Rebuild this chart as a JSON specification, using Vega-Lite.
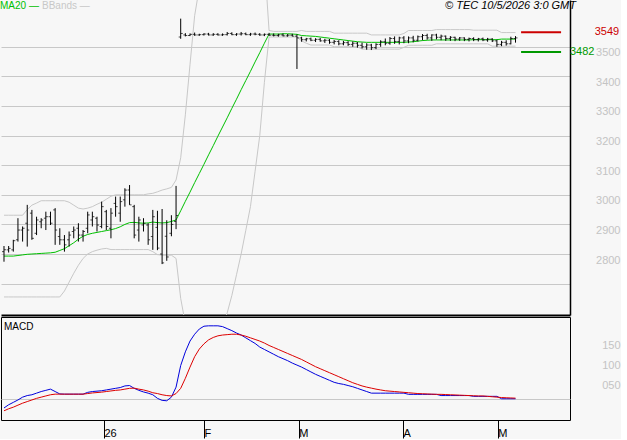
{
"$schema": "https://vega.github.io/schema/vega-lite/v6.json",
"background": "#f7f7f7",
"padding": 0,
"spacing": 1,
"config": {"view": {"stroke": null}, "font": "Liberation Sans"},
"datasets": {
"marks": [{"name": "last", "value": 3549}, {"name": "ma", "value": 3482}],
"bars": [
{"i":0,"open":2808,"high":2827,"low":2774,"close":2814,"ma20":2793,"bbUpper":2931,"bbLower":2655,"macd":-22,"signal":-29},
{"i":1,"open":2814,"high":2827,"low":2805,"close":2819,"ma20":2793,"bbUpper":2931,"bbLower":2655,"macd":-14,"signal":-24},
{"i":2,"open":2814,"high":2848,"low":2808,"close":2845,"ma20":2793,"bbUpper":2931,"bbLower":2655,"macd":-8,"signal":-20},
{"i":3,"open":2848,"high":2921,"low":2842,"close":2881,"ma20":2795,"bbUpper":2931,"bbLower":2655,"macd":-2,"signal":-15},
{"i":4,"open":2881,"high":2893,"low":2842,"close":2887,"ma20":2797,"bbUpper":2931,"bbLower":2655,"macd":5,"signal":-10},
{"i":5,"open":2904,"high":2966,"low":2825,"close":2881,"ma20":2799,"bbUpper":2950,"bbLower":2655,"macd":9,"signal":-6},
{"i":6,"open":2938,"high":2949,"low":2848,"close":2853,"ma20":2800,"bbUpper":2965,"bbLower":2655,"macd":11,"signal":-2},
{"i":7,"open":2870,"high":2926,"low":2864,"close":2915,"ma20":2801,"bbUpper":2972,"bbLower":2655,"macd":15,"signal":2},
{"i":8,"open":2909,"high":2921,"low":2887,"close":2915,"ma20":2802,"bbUpper":2980,"bbLower":2655,"macd":19,"signal":5},
{"i":9,"open":2921,"high":2943,"low":2881,"close":2926,"ma20":2803,"bbUpper":2980,"bbLower":2655,"macd":22,"signal":8},
{"i":10,"open":2926,"high":2943,"low":2898,"close":2904,"ma20":2804,"bbUpper":2980,"bbLower":2655,"macd":25,"signal":11},
{"i":11,"open":2949,"high":2955,"low":2831,"close":2881,"ma20":2806,"bbUpper":2980,"bbLower":2655,"macd":19,"signal":12.5},
{"i":12,"open":2859,"high":2887,"low":2831,"close":2848,"ma20":2812,"bbUpper":2980,"bbLower":2655,"macd":13,"signal":12.5},
{"i":13,"open":2848,"high":2864,"low":2808,"close":2831,"ma20":2818,"bbUpper":2980,"bbLower":2675,"macd":12.5,"signal":12.5},
{"i":14,"open":2848,"high":2876,"low":2825,"close":2864,"ma20":2828,"bbUpper":2975,"bbLower":2705,"macd":12.5,"signal":12.5},
{"i":15,"open":2876,"high":2893,"low":2853,"close":2881,"ma20":2838,"bbUpper":2965,"bbLower":2735,"macd":12.5,"signal":12.5},
{"i":16,"open":2887,"high":2904,"low":2842,"close":2864,"ma20":2850,"bbUpper":2955,"bbLower":2762,"macd":12.5,"signal":12.5},
{"i":17,"open":2864,"high":2881,"low":2842,"close":2876,"ma20":2860,"bbUpper":2952,"bbLower":2785,"macd":12.5,"signal":12.5},
{"i":18,"open":2887,"high":2943,"low":2870,"close":2932,"ma20":2866,"bbUpper":2955,"bbLower":2800,"macd":17,"signal":14},
{"i":19,"open":2915,"high":2943,"low":2893,"close":2926,"ma20":2870,"bbUpper":2960,"bbLower":2808,"macd":19,"signal":15.5},
{"i":20,"open":2921,"high":2926,"low":2876,"close":2898,"ma20":2873,"bbUpper":2968,"bbLower":2813,"macd":20,"signal":16.5},
{"i":21,"open":2893,"high":2977,"low":2887,"close":2960,"ma20":2876,"bbUpper":2975,"bbLower":2817,"macd":21,"signal":17.5},
{"i":22,"open":2943,"high":2949,"low":2881,"close":2893,"ma20":2879,"bbUpper":2985,"bbLower":2819,"macd":23,"signal":19},
{"i":23,"open":2887,"high":2955,"low":2853,"close":2938,"ma20":2882,"bbUpper":2995,"bbLower":2815,"macd":25,"signal":20.5},
{"i":24,"open":2971,"high":2994,"low":2926,"close":2960,"ma20":2886,"bbUpper":3000,"bbLower":2815,"macd":27,"signal":22},
{"i":25,"open":2938,"high":2994,"low":2909,"close":2977,"ma20":2892,"bbUpper":3000,"bbLower":2815,"macd":29,"signal":23},
{"i":26,"open":2983,"high":3022,"low":2960,"close":3016,"ma20":2900,"bbUpper":3000,"bbLower":2815,"macd":33,"signal":25},
{"i":27,"open":3016,"high":3033,"low":2966,"close":2966,"ma20":2906,"bbUpper":3000,"bbLower":2815,"macd":34,"signal":27},
{"i":28,"open":2960,"high":2966,"low":2853,"close":2864,"ma20":2907,"bbUpper":3000,"bbLower":2815,"macd":27,"signal":27.5},
{"i":29,"open":2881,"high":2926,"low":2842,"close":2915,"ma20":2905,"bbUpper":3000,"bbLower":2815,"macd":22,"signal":25},
{"i":30,"open":2898,"high":2921,"low":2876,"close":2904,"ma20":2904,"bbUpper":3000,"bbLower":2815,"macd":18,"signal":23},
{"i":31,"open":2898,"high":2904,"low":2831,"close":2848,"ma20":2905,"bbUpper":3003,"bbLower":2815,"macd":15,"signal":20},
{"i":32,"open":2859,"high":2949,"low":2814,"close":2926,"ma20":2908,"bbUpper":3005,"bbLower":2808,"macd":11,"signal":16},
{"i":33,"open":2890,"high":2946,"low":2813,"close":2820,"ma20":2906,"bbUpper":3010,"bbLower":2798,"macd":2,"signal":14},
{"i":34,"open":2800,"high":2952,"low":2766,"close":2770,"ma20":2905,"bbUpper":3016,"bbLower":2796,"macd":-3,"signal":11},
{"i":35,"open":2860,"high":2914,"low":2777,"close":2790,"ma20":2906,"bbUpper":3020,"bbLower":2796,"macd":-4,"signal":9},
{"i":36,"open":2870,"high":2931,"low":2860,"close":2900,"ma20":2910,"bbUpper":3025,"bbLower":2796,"macd":5,"signal":8},
{"i":37,"open":2910,"high":3030,"low":2884,"close":2930,"ma20":2915,"bbUpper":3050,"bbLower":2785,"macd":30,"signal":14},
{"i":38,"open":3533,"high":3595,"low":3527,"close":3545,"ma20":2946,"bbUpper":3125,"bbLower":2650,"macd":84,"signal":27},
{"i":39,"open":3540,"high":3546,"low":3535,"close":3538,"ma20":2978,"bbUpper":3270,"bbLower":2565,"macd":118,"signal":52},
{"i":40,"open":3538,"high":3545,"low":3536,"close":3542,"ma20":3009,"bbUpper":3440,"bbLower":2523,"macd":145,"signal":80},
{"i":41,"open":3542,"high":3548,"low":3537,"close":3540,"ma20":3041,"bbUpper":3605,"bbLower":2500,"macd":162,"signal":106},
{"i":42,"open":3540,"high":3544,"low":3537,"close":3541,"ma20":3072,"bbUpper":3700,"bbLower":2490,"macd":175,"signal":125},
{"i":43,"open":3541,"high":3546,"low":3538,"close":3543,"ma20":3103,"bbUpper":3740,"bbLower":2489,"macd":182,"signal":138},
{"i":44,"open":3543,"high":3547,"low":3538,"close":3540,"ma20":3135,"bbUpper":3787,"bbLower":2497,"macd":183,"signal":148},
{"i":45,"open":3540,"high":3546,"low":3537,"close":3542,"ma20":3166,"bbUpper":3829,"bbLower":2513,"macd":183,"signal":154},
{"i":46,"open":3542,"high":3546,"low":3538,"close":3540,"ma20":3198,"bbUpper":3865,"bbLower":2536,"macd":183,"signal":158},
{"i":47,"open":3540,"high":3545,"low":3537,"close":3541,"ma20":3229,"bbUpper":3894,"bbLower":2565,"macd":181,"signal":160},
{"i":48,"open":3541,"high":3550,"low":3538,"close":3545,"ma20":3260,"bbUpper":3917,"bbLower":2601,"macd":176,"signal":161},
{"i":49,"open":3545,"high":3549,"low":3539,"close":3541,"ma20":3292,"bbUpper":3933,"bbLower":2660,"macd":171,"signal":162},
{"i":50,"open":3541,"high":3546,"low":3537,"close":3543,"ma20":3323,"bbUpper":3941,"bbLower":2730,"macd":165,"signal":162},
{"i":51,"open":3543,"high":3550,"low":3538,"close":3544,"ma20":3355,"bbUpper":3940,"bbLower":2800,"macd":160,"signal":160},
{"i":52,"open":3544,"high":3548,"low":3539,"close":3541,"ma20":3386,"bbUpper":3930,"bbLower":2880,"macd":153,"signal":157},
{"i":53,"open":3541,"high":3547,"low":3537,"close":3543,"ma20":3417,"bbUpper":3907,"bbLower":2960,"macd":146,"signal":153},
{"i":54,"open":3543,"high":3548,"low":3539,"close":3542,"ma20":3449,"bbUpper":3880,"bbLower":3080,"macd":139,"signal":149},
{"i":55,"open":3542,"high":3546,"low":3537,"close":3540,"ma20":3480,"bbUpper":3850,"bbLower":3200,"macd":130,"signal":145},
{"i":56,"open":3540,"high":3545,"low":3536,"close":3542,"ma20":3512,"bbUpper":3791,"bbLower":3380,"macd":124,"signal":140},
{"i":57,"open":3542,"high":3547,"low":3537,"close":3539,"ma20":3543,"bbUpper":3555,"bbLower":3533,"macd":118,"signal":134},
{"i":58,"open":3539,"high":3545,"low":3535,"close":3538,"ma20":3543,"bbUpper":3552,"bbLower":3533,"macd":112,"signal":129},
{"i":59,"open":3538,"high":3544,"low":3534,"close":3540,"ma20":3543,"bbUpper":3552,"bbLower":3533,"macd":106,"signal":124},
{"i":60,"open":3540,"high":3545,"low":3535,"close":3537,"ma20":3544,"bbUpper":3552,"bbLower":3533,"macd":101,"signal":119},
{"i":61,"open":3537,"high":3543,"low":3534,"close":3539,"ma20":3544,"bbUpper":3552,"bbLower":3533,"macd":96,"signal":114},
{"i":62,"open":3539,"high":3544,"low":3535,"close":3536,"ma20":3543,"bbUpper":3552,"bbLower":3533,"macd":90,"signal":109},
{"i":63,"open":3536,"high":3542,"low":3425,"close":3530,"ma20":3542,"bbUpper":3552,"bbLower":3533,"macd":85,"signal":104},
{"i":64,"open":3530,"high":3534,"low":3517,"close":3524,"ma20":3538,"bbUpper":3555,"bbLower":3520,"macd":80,"signal":99},
{"i":65,"open":3524,"high":3530,"low":3518,"close":3527,"ma20":3537,"bbUpper":3552,"bbLower":3512,"macd":74,"signal":93},
{"i":66,"open":3527,"high":3531,"low":3519,"close":3522,"ma20":3536,"bbUpper":3552,"bbLower":3506,"macd":68,"signal":87},
{"i":67,"open":3522,"high":3529,"low":3516,"close":3525,"ma20":3535,"bbUpper":3552,"bbLower":3506,"macd":62,"signal":81},
{"i":68,"open":3525,"high":3530,"low":3517,"close":3520,"ma20":3533,"bbUpper":3552,"bbLower":3506,"macd":57,"signal":76},
{"i":69,"open":3520,"high":3527,"low":3513,"close":3522,"ma20":3531,"bbUpper":3552,"bbLower":3506,"macd":52,"signal":71},
{"i":70,"open":3522,"high":3526,"low":3510,"close":3515,"ma20":3529,"bbUpper":3552,"bbLower":3506,"macd":47,"signal":66},
{"i":71,"open":3515,"high":3523,"low":3508,"close":3518,"ma20":3527,"bbUpper":3546,"bbLower":3500,"macd":42,"signal":61},
{"i":72,"open":3518,"high":3522,"low":3505,"close":3510,"ma20":3525,"bbUpper":3546,"bbLower":3500,"macd":39,"signal":56},
{"i":73,"open":3510,"high":3520,"low":3505,"close":3514,"ma20":3523,"bbUpper":3546,"bbLower":3500,"macd":37,"signal":51},
{"i":74,"open":3514,"high":3519,"low":3503,"close":3508,"ma20":3521,"bbUpper":3546,"bbLower":3500,"macd":34,"signal":46},
{"i":75,"open":3508,"high":3518,"low":3500,"close":3512,"ma20":3519,"bbUpper":3546,"bbLower":3500,"macd":31,"signal":41},
{"i":76,"open":3512,"high":3516,"low":3497,"close":3505,"ma20":3517,"bbUpper":3546,"bbLower":3500,"macd":27,"signal":37},
{"i":77,"open":3505,"high":3514,"low":3494,"close":3500,"ma20":3516,"bbUpper":3546,"bbLower":3492,"macd":23,"signal":33},
{"i":78,"open":3500,"high":3512,"low":3490,"close":3506,"ma20":3515,"bbUpper":3546,"bbLower":3492,"macd":19,"signal":30},
{"i":79,"open":3506,"high":3510,"low":3489,"close":3497,"ma20":3515,"bbUpper":3540,"bbLower":3492,"macd":15,"signal":27.5},
{"i":80,"open":3497,"high":3512,"low":3492,"close":3508,"ma20":3515,"bbUpper":3540,"bbLower":3492,"macd":15,"signal":25},
{"i":81,"open":3508,"high":3522,"low":3500,"close":3517,"ma20":3515,"bbUpper":3540,"bbLower":3492,"macd":15,"signal":23},
{"i":82,"open":3517,"high":3528,"low":3505,"close":3512,"ma20":3515,"bbUpper":3540,"bbLower":3492,"macd":15,"signal":21},
{"i":83,"open":3512,"high":3533,"low":3507,"close":3528,"ma20":3515,"bbUpper":3540,"bbLower":3492,"macd":15,"signal":20},
{"i":84,"open":3528,"high":3535,"low":3510,"close":3518,"ma20":3515,"bbUpper":3540,"bbLower":3492,"macd":15,"signal":19},
{"i":85,"open":3518,"high":3534,"low":3508,"close":3530,"ma20":3515,"bbUpper":3540,"bbLower":3492,"macd":15,"signal":18},
{"i":86,"open":3530,"high":3536,"low":3512,"close":3520,"ma20":3515,"bbUpper":3545,"bbLower":3498,"macd":15,"signal":17},
{"i":87,"open":3520,"high":3535,"low":3512,"close":3530,"ma20":3516,"bbUpper":3555,"bbLower":3505,"macd":12,"signal":16},
{"i":88,"open":3530,"high":3537,"low":3515,"close":3522,"ma20":3517,"bbUpper":3555,"bbLower":3505,"macd":12,"signal":15},
{"i":89,"open":3522,"high":3538,"low":3518,"close":3534,"ma20":3519,"bbUpper":3555,"bbLower":3505,"macd":12,"signal":14},
{"i":90,"open":3534,"high":3543,"low":3522,"close":3538,"ma20":3521,"bbUpper":3555,"bbLower":3505,"macd":12,"signal":13.5},
{"i":91,"open":3538,"high":3544,"low":3524,"close":3530,"ma20":3522,"bbUpper":3555,"bbLower":3505,"macd":12,"signal":13},
{"i":92,"open":3530,"high":3542,"low":3520,"close":3540,"ma20":3523,"bbUpper":3555,"bbLower":3505,"macd":12,"signal":12.5},
{"i":93,"open":3540,"high":3544,"low":3525,"close":3532,"ma20":3523,"bbUpper":3558,"bbLower":3510,"macd":12,"signal":12},
{"i":94,"open":3532,"high":3541,"low":3522,"close":3536,"ma20":3523,"bbUpper":3558,"bbLower":3510,"macd":9,"signal":12},
{"i":95,"open":3536,"high":3538,"low":3520,"close":3528,"ma20":3523,"bbUpper":3558,"bbLower":3510,"macd":9,"signal":11.5},
{"i":96,"open":3528,"high":3536,"low":3520,"close":3532,"ma20":3523,"bbUpper":3558,"bbLower":3510,"macd":9,"signal":11},
{"i":97,"open":3532,"high":3534,"low":3519,"close":3526,"ma20":3523,"bbUpper":3558,"bbLower":3510,"macd":9,"signal":10.5},
{"i":98,"open":3526,"high":3533,"low":3520,"close":3530,"ma20":3523,"bbUpper":3558,"bbLower":3510,"macd":9,"signal":10},
{"i":99,"open":3530,"high":3532,"low":3519,"close":3525,"ma20":3523,"bbUpper":3558,"bbLower":3510,"macd":9,"signal":9.5},
{"i":100,"open":3525,"high":3531,"low":3518,"close":3528,"ma20":3523,"bbUpper":3558,"bbLower":3510,"macd":9,"signal":9},
{"i":101,"open":3528,"high":3532,"low":3519,"close":3524,"ma20":3524,"bbUpper":3556,"bbLower":3510,"macd":7,"signal":8.5},
{"i":102,"open":3524,"high":3530,"low":3518,"close":3527,"ma20":3524,"bbUpper":3556,"bbLower":3510,"macd":7,"signal":8},
{"i":103,"open":3527,"high":3531,"low":3519,"close":3523,"ma20":3524,"bbUpper":3556,"bbLower":3510,"macd":7,"signal":8},
{"i":104,"open":3523,"high":3530,"low":3517,"close":3526,"ma20":3524,"bbUpper":3556,"bbLower":3510,"macd":7,"signal":7},
{"i":105,"open":3526,"high":3529,"low":3516,"close":3520,"ma20":3524,"bbUpper":3556,"bbLower":3502,"macd":7,"signal":6},
{"i":106,"open":3520,"high":3524,"low":3500,"close":3508,"ma20":3524,"bbUpper":3556,"bbLower":3502,"macd":7,"signal":5},
{"i":107,"open":3508,"high":3520,"low":3502,"close":3515,"ma20":3526,"bbUpper":3548,"bbLower":3502,"macd":1,"signal":4},
{"i":108,"open":3515,"high":3522,"low":3504,"close":3510,"ma20":3526,"bbUpper":3548,"bbLower":3502,"macd":1,"signal":3.5},
{"i":109,"open":3510,"high":3534,"low":3508,"close":3528,"ma20":3526,"bbUpper":3548,"bbLower":3502,"macd":1,"signal":3},
{"i":110,"open":3528,"high":3536,"low":3514,"close":3530,"ma20":3526,"bbUpper":3548,"bbLower":3502,"macd":1,"signal":2.5}
]
},
"vconcat": [
{
"width": 569,
"height": 315,
"data": {"name": "bars"},
"title": {"text": "© TEC 10/5/2026 3:0 GMT", "anchor": "end", "frame": "group", "orient": "top", "offset": -11, "dx": 6, "fontSize": 11, "fontWeight": "normal", "fontStyle": "italic", "font": "Liberation Sans", "color": "black"},
"layer": [
{"mark": {"type": "line", "clip": true, "strokeWidth": 1},
 "encoding": {
  "x": {"field": "i", "type": "quantitative", "title": null, "scale": {"domain": [-0.645, 121.72], "nice": false, "zero": false}, "axis": {"domain": true, "domainColor": "black", "domainWidth": 2, "ticks": false, "labels": false, "grid": false}},
  "y": {"field": "bbUpper", "type": "quantitative", "title": null, "scale": {"domain": [2594, 3658], "nice": false, "zero": false}, "axis": {"orient": "right", "values": [2700, 2800, 2900, 3000, 3100, 3200, 3300, 3400, 3500], "tickCount": 40, "format": "d", "labelExpr": "datum.value == 2700 ? '' : datum.label", "labelOverlap": false, "labelBound": false, "grid": true, "gridColor": "#c8c8c8", "domain": true, "domainColor": "black", "domainWidth": 1.5, "ticks": false, "labelColor": "#c4c4c4", "labelFontSize": 11, "labelFont": "Liberation Sans", "labelAlign": "right", "labelBaseline": "top", "labelPadding": 50}},
  "color": {"datum": "BBands", "type": "nominal", "scale": {"domain": ["MA20", "BBands"], "range": ["#00c000", "#c8c8c8"]},
   "legend": {"orient": "top-left", "direction": "horizontal", "title": null, "offset": 1, "padding": 0, "symbolOpacity": 0, "symbolSize": 0, "labelOffset": -12, "labelFontSize": 10, "labelFont": "Liberation Sans", "labelExpr": "datum.label + ' —'", "columnPadding": 3,
    "encode": {"labels": {"update": {"fill": {"signal": "datum.label === 'MA20' ? '#00c000' : '#c8c8c8'"}}}}}}
 }},
{"mark": {"type": "line", "clip": true, "strokeWidth": 1},
 "encoding": {
  "x": {"field": "i", "type": "quantitative", "title": null},
  "y": {"field": "bbLower", "type": "quantitative", "title": null},
  "color": {"datum": "BBands", "type": "nominal"}
 }},
{"mark": {"type": "line", "clip": true, "strokeWidth": 1},
 "encoding": {
  "x": {"field": "i", "type": "quantitative", "title": null},
  "y": {"field": "ma20", "type": "quantitative", "title": null},
  "color": {"datum": "MA20", "type": "nominal"}
 }},
{"mark": {"type": "rule", "color": "black", "strokeWidth": 1, "clip": true},
 "encoding": {
  "x": {"field": "i", "type": "quantitative", "title": null},
  "y": {"field": "low", "type": "quantitative", "title": null},
  "y2": {"field": "high"}
 }},
{"mark": {"type": "tick", "orient": "horizontal", "size": 2, "thickness": 1, "xOffset": -1, "color": "black"},
 "encoding": {
  "x": {"field": "i", "type": "quantitative", "title": null},
  "y": {"field": "open", "type": "quantitative", "title": null}
 }},
{"mark": {"type": "tick", "orient": "horizontal", "size": 2, "thickness": 1, "xOffset": 1, "color": "black"},
 "encoding": {
  "x": {"field": "i", "type": "quantitative", "title": null},
  "y": {"field": "close", "type": "quantitative", "title": null}
 }},
{"data": {"name": "marks"}, "transform": [{"filter": "datum.name === 'last'"}],
 "mark": {"type": "rule", "color": "#cc0000", "strokeWidth": 2},
 "encoding": {
  "x": {"datum": 111.2, "type": "quantitative"}, "x2": {"datum": 119.8},
  "y": {"field": "value", "type": "quantitative", "title": null}
 }},
{"data": {"name": "marks"}, "transform": [{"filter": "datum.name === 'ma'"}],
 "mark": {"type": "rule", "color": "#009900", "strokeWidth": 2},
 "encoding": {
  "x": {"datum": 111.2, "type": "quantitative"}, "x2": {"datum": 119.8},
  "y": {"field": "value", "type": "quantitative", "title": null}
 }},
{"data": {"name": "marks"}, "transform": [{"filter": "datum.name === 'last'"}],
 "mark": {"type": "text", "align": "right", "baseline": "middle", "fontSize": 11, "font": "Liberation Sans", "color": "#cc0000"},
 "encoding": {
  "x": {"datum": 132.3, "type": "quantitative"},
  "y": {"field": "value", "type": "quantitative", "title": null},
  "text": {"field": "value", "type": "quantitative", "format": "d"}
 }},
{"data": {"name": "marks"}, "transform": [{"filter": "datum.name === 'ma'"}],
 "mark": {"type": "text", "align": "left", "baseline": "middle", "fontSize": 11, "font": "Liberation Sans", "color": "#009900"},
 "encoding": {
  "x": {"datum": 121.7, "type": "quantitative"},
  "y": {"field": "value", "type": "quantitative", "title": null},
  "text": {"field": "value", "type": "quantitative", "format": "d"}
 }}
]
},
{
"width": 569,
"height": 103,
"data": {"name": "bars"},
"view": {"stroke": "black"},
"title": {"text": "MACD", "anchor": "start", "frame": "group", "orient": "top", "offset": -15, "dx": 3, "fontSize": 10, "fontWeight": "normal", "font": "Liberation Sans", "color": "black"},
"layer": [
{"mark": {"type": "line", "color": "#0000dd", "strokeWidth": 1, "clip": true},
 "encoding": {
  "x": {"field": "i", "type": "quantitative", "title": null, "scale": {"domain": [-0.645, 121.72], "nice": false, "zero": false},
   "axis": {"values": [21.5, 43, 63.4, 85.8, 106.2], "tickCount": 40, "labelExpr": "datum.value < 30 ? '26' : datum.value < 50 ? 'F' : datum.value < 75 ? 'M' : datum.value < 95 ? 'A' : 'M'", "domain": false, "grid": false, "ticks": true, "tickColor": "black", "tickSize": 18, "labelAlign": "left", "labelBaseline": "bottom", "labelPadding": 0, "labelDx": 2, "labelColor": "black", "labelFontSize": 11, "labelFont": "Liberation Sans", "labelFlush": false, "labelOverlap": false}},
  "y": {"field": "macd", "type": "quantitative", "title": null, "scale": {"domain": [-52, 205], "nice": false, "zero": false},
   "axis": {"orient": "right", "values": [0, 50, 100, 150], "tickCount": 40, "labelExpr": "datum.value === 0 ? '' : datum.value === 50 ? '050' : datum.label", "labelOverlap": false, "labelBound": false, "grid": true, "gridColor": "#c8c8c8", "gridOpacity": {"condition": {"test": "datum.value === 0", "value": 1}, "value": 0}, "domain": false, "ticks": false, "labelColor": "#c4c4c4", "labelFontSize": 11, "labelFont": "Liberation Sans", "labelAlign": "right", "labelBaseline": "top", "labelPadding": 50}}
 }},
{"mark": {"type": "line", "color": "#dd0000", "strokeWidth": 1, "clip": true},
 "encoding": {
  "x": {"field": "i", "type": "quantitative", "title": null},
  "y": {"field": "signal", "type": "quantitative", "title": null}
 }}
]
}
]
}
